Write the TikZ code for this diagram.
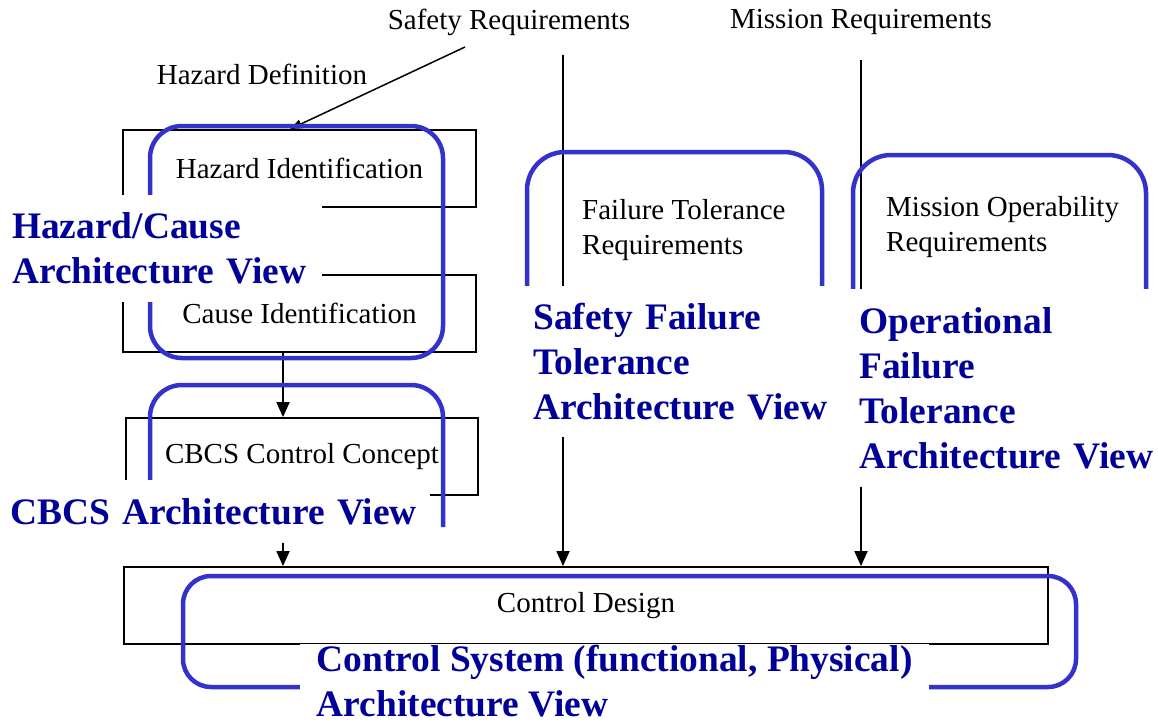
\documentclass[tikz,border=0pt]{standalone}
\usepackage{fontspec}
\setmainfont{Liberation Serif}
\usetikzlibrary{arrows.meta,calc}
\definecolor{viewline}{RGB}{51,51,204}
\definecolor{viewtext}{RGB}{0,0,153}
\begin{document}
\begin{tikzpicture}[x=1pt,y=-1pt,
  lbl/.style={font=\fontsize{29}{35}\selectfont, inner sep=0pt},
  procbox/.style={draw, line width=1.8pt, minimum width=353pt, minimum height=77pt,
    inner sep=0pt, font=\fontsize{29}{35}\selectfont},
  flow/.style={line width=1.8pt, -{Triangle[length=15pt,width=13pt]}},
  viewframe/.style={draw=viewline, line width=4.5pt, rounded corners=32pt},
  viewname/.style={fill=white, text=viewtext, inner ysep=0pt, align=left,
    anchor=north west, font=\fontsize{37.4}{45}\selectfont\bfseries},
]
\useasboundingbox (0,0) rectangle (1158,724);

% process boxes
\node[procbox] (hazbox) at (299.5,168.5) {Hazard Identification};
\node[procbox] (causebox) at (299.5,313.5) {Cause Identification};
\node[procbox, minimum width=352pt] (cbcsbox) at (302,456.5) {CBCS Control Concept};
\node[procbox, minimum width=924pt] (ctrlbox) at (586,605.5) {Control Design};

% inputs and requirement labels
\node[lbl] (safreq) at (509,22) {Safety Requirements};
\node[lbl] (misreq) at (861,22) {Mission Requirements};
\node[lbl] (hazdef) at (262,74) {Hazard Definition};
\node[lbl, align=left, anchor=west] (ftreq) at (582,230) {Failure Tolerance\\Requirements};
\node[lbl, align=left, anchor=west] (moreq) at (886,227) {Mission Operability\\Requirements};

% connector anchors
\coordinate (hdstart) at (465,47);
\coordinate (colH) at (290,0);
\coordinate (colA) at (283,0);
\coordinate (sftop) at (563,55);
\coordinate (mstop) at (861,60);

% connectors
\draw[line width=1.5pt, -{Triangle[length=12pt,width=9pt]}] (hdstart) -- (hazbox.north -| colH);
\draw[flow] (causebox.south -| colA) -- (cbcsbox.north -| colA);
\draw[flow] (cbcsbox.south -| colA) -- (ctrlbox.north -| colA);
\draw[flow] (sftop) -- (ctrlbox.north -| sftop);
\draw[flow] (mstop) -- (ctrlbox.north -| mstop);

% architecture view frames
\draw[viewframe] (150,126) rectangle (443,358);
\draw[viewframe] (150,480) -- (150,385) -- (443,385) -- (443,527);
\draw[viewframe, rounded corners=38pt] (527,286) -- (527,152) -- (822,152) -- (822,286);
\draw[viewframe, rounded corners=38pt] (853,289) -- (853,155) -- (1146,155) -- (1146,289);
\draw[viewframe, rounded corners=28pt] (183,576) rectangle (1076,687);

% architecture view names
\node[viewname, inner xsep=8pt, text width=302pt, minimum height=107pt] (hazview) at (4,195)
  {Hazard/Cause\\Architecture View};
\node[viewname, inner xsep=6pt, text width=414pt, minimum height=63pt] (cbcsview) at (4,480)
  {CBCS Architecture View};
\node[viewname, inner xsep=8pt, text width=302pt, minimum height=151pt] (safview) at (525,286)
  {Safety Failure\\Tolerance\\Architecture View};
\node[viewname, inner xsep=8pt, text width=302pt, minimum height=198pt] (misview) at (851,289)
  {Operational\\Failure\\Tolerance\\Architecture View};
\node[viewname, inner xsep=0pt, minimum width=629pt, minimum height=74pt] (ctrlview) at (300,644)
  {Control System (functional, Physical)\\Architecture View};
\end{tikzpicture}
\end{document}
